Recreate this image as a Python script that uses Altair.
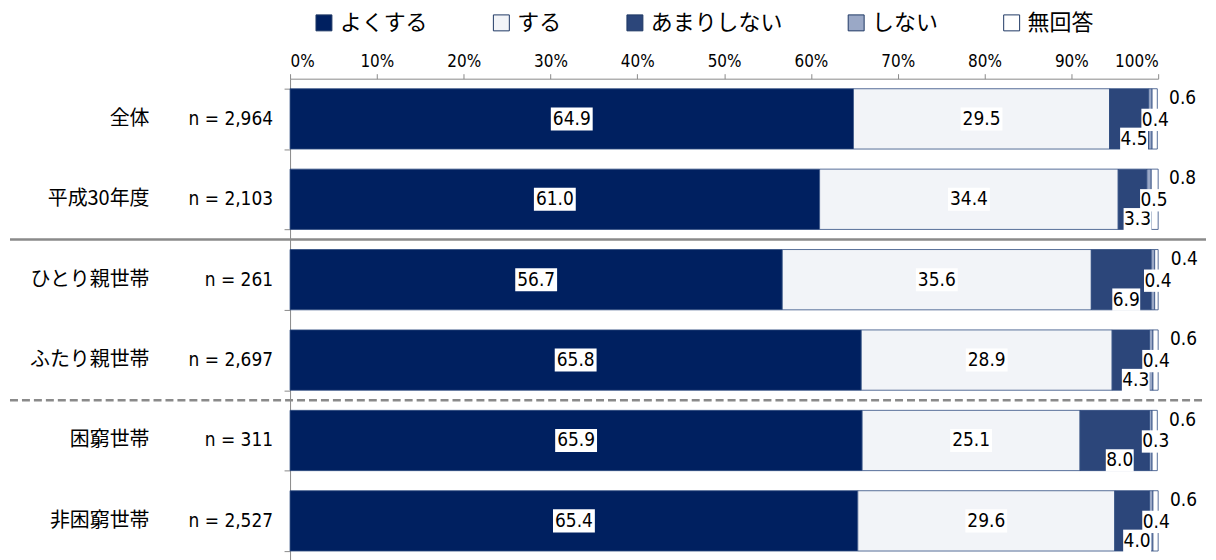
import altair as alt
import pandas as pd

groups = ["全体", "平成30年度", "ひとり親世帯", "ふたり親世帯", "困窮世帯", "非困窮世帯"]
n_labels = ["n = 2,964", "n = 2,103", "n = 261", "n = 2,697", "n = 311", "n = 2,527"]
responses = ["よくする", "する", "あまりしない", "しない", "無回答"]
yoku = [64.9, 61.0, 56.7, 65.8, 65.9, 65.4]
suru = [29.5, 34.4, 35.6, 28.9, 25.1, 29.6]
amari = [4.5, 3.3, 6.9, 4.3, 8.0, 4.0]
shinai = [0.4, 0.5, 0.4, 0.4, 0.3, 0.4]
mukaitou = [0.6, 0.8, 0.4, 0.6, 0.6, 0.6]
x_ticks = [0, 10, 20, 30, 40, 50, 60, 70, 80, 90, 100]

colors = ["#002060", "#F2F4F8", "#2C467A", "#9AA8C6", "#FFFFFF"]
NUM_FONT = "Liberation Sans Narrow, DejaVu Sans Condensed, Noto Sans"
JP_FONT = "Noto Sans CJK JP"
GRAY = "#8a8a8a"

series = [yoku, suru, amari, shinai, mukaitou]
rows = []
for gi, g in enumerate(groups):
    start = 0.0
    for ri, r in enumerate(responses):
        v = series[ri][gi]
        rows.append({"group": g, "resp": r, "ord": ri, "value": v,
                     "start": start, "end": start + v, "mid": start + v / 2})
        start += v
df = pd.DataFrame(rows)
gdf = pd.DataFrame({"group": groups, "n": n_labels})

Y = alt.Y("group:N",
          scale=alt.Scale(domain=groups, paddingInner=0.25, paddingOuter=0.125),
          axis=alt.Axis(labels=False, title=None, ticks=True, tickBand="extent",
                        tickSize=6, domainColor=GRAY, tickColor=GRAY, grid=False))

bars = alt.Chart(df).mark_bar(stroke="#2F4B80", strokeWidth=0.8).encode(
    y=Y,
    x=alt.X("start:Q", scale=alt.Scale(domain=[0, 100]),
            axis=alt.Axis(orient="top", values=x_ticks, labelExpr="datum.value + '%'",
                          labelFont=NUM_FONT, labelFontSize=17, labelColor="black",
                          domainColor=GRAY, tickColor=GRAY, tickSize=5, labelPadding=3,
                          grid=False, title=None)),
    x2="end:Q",
    color=alt.Color("resp:N", scale=alt.Scale(domain=responses, range=colors),
                    legend=alt.Legend(orient="none", legendX=23, legendY=-67,
                                      direction="horizontal", columns=5, gridAlign="each",
                                      title=None, symbolType="square", symbolSize=256,
                                      symbolStrokeColor="#1F3864", symbolStrokeWidth=1,
                                      labelFont=JP_FONT, labelFontSize=22, labelColor="black",
                                      labelOffset=5, columnPadding=62, padding=0)),
    order=alt.Order("ord:Q"),
)

P_WIDE = "M-1,-0.55H1V0.55H-1Z"
P_NARROW = "M-1,-0.8H1V0.8H-1Z"


def value_labels(resp_list, xoff, yoff):
    base = alt.Chart(df).transform_filter(
        alt.FieldOneOfPredicate(field="resp", oneOf=resp_list))
    box = base.mark_point(filled=True, color="white", opacity=1, strokeWidth=0,
                          xOffset=xoff, yOffset=yoff).encode(
        x="mid:Q", y=Y,
        shape=alt.condition("datum.value >= 10", alt.value(P_WIDE), alt.value(P_NARROW)),
        size=alt.condition("datum.value >= 10", alt.value(1764), alt.value(784)),
    )
    txt = base.mark_text(font=NUM_FONT, fontSize=19, color="black",
                         xOffset=xoff, yOffset=yoff).encode(
        x="mid:Q", y=Y, text=alt.Text("value:Q", format=".1f"))
    return box + txt


lab_main = value_labels(["よくする", "する"], 0, 0)
lab_amari = value_labels(["あまりしない"], 5, 20)
lab_shinai = value_labels(["しない"], 5, 1)
lab_muka = value_labels(["無回答"], 28, -21)

cat_text = alt.Chart(gdf).mark_text(font=JP_FONT, fontSize=20, align="right",
                                    color="black").encode(
    x=alt.value(-141), y=Y, text="group:N")
n_text = alt.Chart(gdf).mark_text(font=NUM_FONT, fontSize=19, align="right",
                                  color="black").encode(
    x=alt.value(-17), y=Y, text="n:N")

Yb = alt.Y("group:N", bandPosition=0,
           scale=alt.Scale(domain=groups, paddingInner=0.25, paddingOuter=0.125),
           axis=alt.Axis(labels=False, title=None, ticks=True, tickBand="extent",
                         tickSize=6, domainColor=GRAY, tickColor=GRAY, grid=False))
solid_rule = alt.Chart(pd.DataFrame({"group": ["ひとり親世帯"]})).mark_rule(
    color=GRAY, strokeWidth=2.5, yOffset=-10).encode(
    y=Yb, x=alt.value(-281), x2=alt.value(919))
dash_rule = alt.Chart(pd.DataFrame({"group": ["困窮世帯"]})).mark_rule(
    color=GRAY, strokeWidth=2.5, strokeDash=[8, 4], yOffset=-10).encode(
    y=Yb, x=alt.value(-281), x2=alt.value(919))

chart = alt.layer(
    bars, lab_main, lab_amari, lab_shinai, lab_muka, cat_text, n_text, solid_rule, dash_rule
).properties(
    width=871, height=484,
    padding={"top": 3, "left": 0, "right": 0, "bottom": 0},
).configure_view(stroke=None)

chart.save("out.html", embed_options={"renderer": "svg", "actions": False})
